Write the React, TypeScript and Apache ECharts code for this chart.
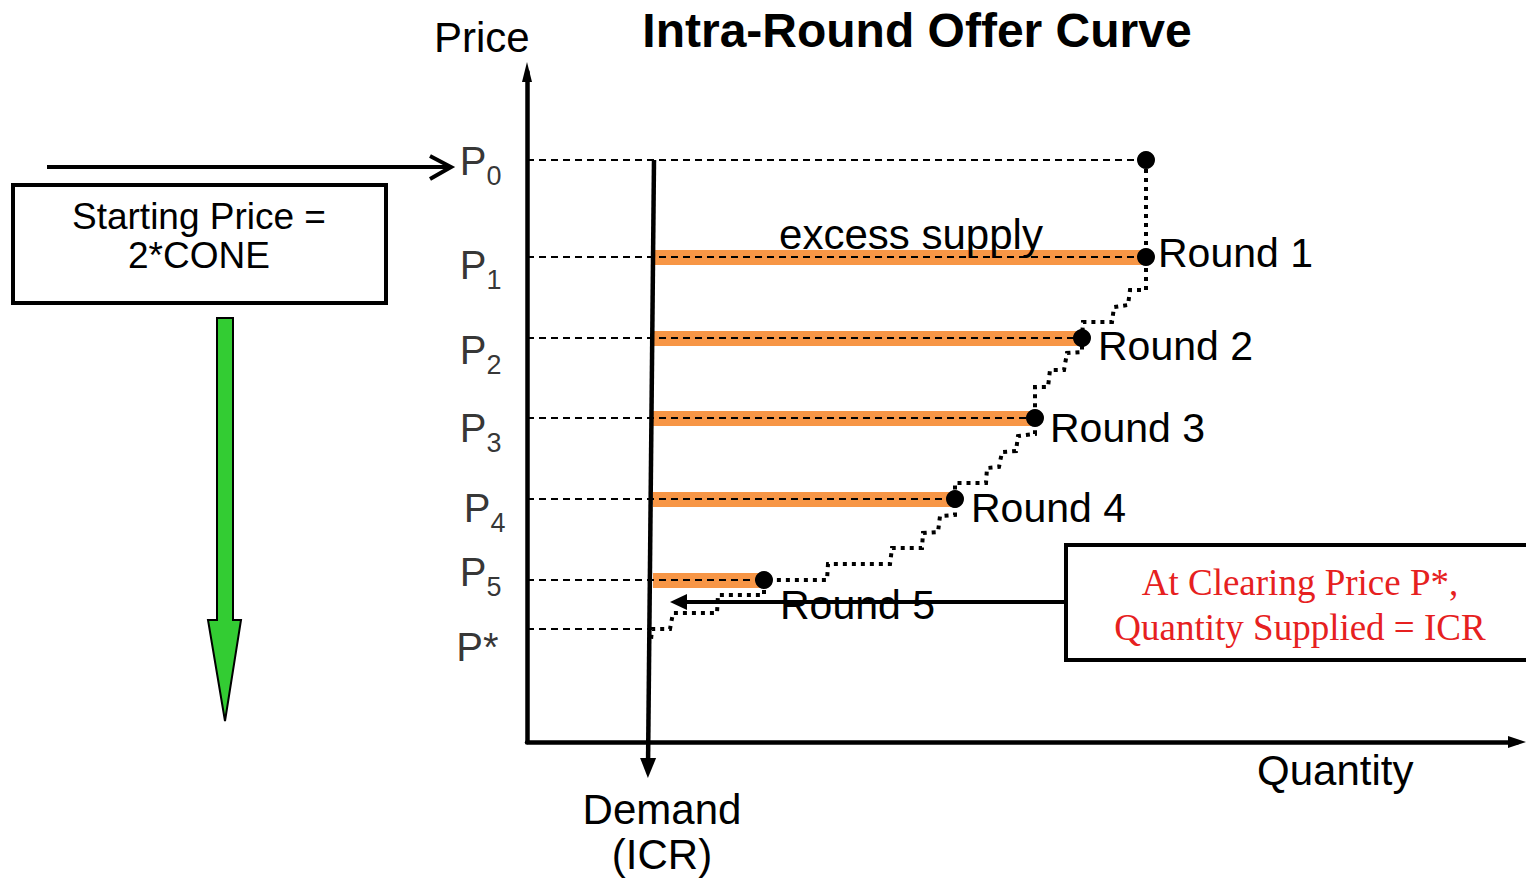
import React, { useEffect, useRef } from 'react';
import * as echarts from 'echarts';

// ---- data (quantity on x, price on y, in diagram units) ----
const priceNames = ['0', '1', '2', '3', '4', '5', '*'];
const priceLevels = [582, 485, 404, 324, 243, 162, 113]; // P0..P5, P*
const roundNames = ['Round 1', 'Round 2', 'Round 3', 'Round 4', 'Round 5'];
const roundQuantities = [619, 555, 508, 428, 237]; // offered quantity at P1..P5
const startQuantity = 619; // offered quantity at P0
const demandQuantity = 125; // ICR
const demandTop = [127, 582];
const demandBottom = [121, -26];
const supplyCurve = [
  [619, 582], [619, 485], [619, 452], [603, 452], [601, 437], [587, 435], [585, 420],
  [556, 420], [555, 404], [555, 390], [540, 389], [537, 372], [523, 372], [521, 355],
  [508, 355], [508, 324], [508, 308], [491, 306], [489, 291], [475, 290], [472, 275],
  [460, 274], [459, 259], [428, 259], [428, 243], [428, 227], [413, 226], [411, 210],
  [396, 209], [395, 194], [365, 194], [363, 178], [301, 178], [300, 162], [237, 162],
  [237, 147], [191, 147], [190, 129], [146, 129], [143, 113], [125, 113], [124, 102],
];

// ---- styling offsets ----
const priceLabelOffsets = [[0, 1], [0, 8], [0, 12], [0, 10], [4, 9], [0, -8], [-3, 18]];
const roundLabelOffsets = [[0, -4], [4, 8], [3, 10], [4, 9], [4, 25]];

const SANS = 'Liberation Sans, Arial, sans-serif';
const SERIF = 'Liberation Serif, Times New Roman, serif';
const ORANGE = '#F79646';

export default function App() {
  const ref = useRef<HTMLDivElement>(null);
  useEffect(() => {
    if (!ref.current) return;
    const chart = echarts.init(ref.current, undefined, { renderer: 'svg' });

    const orangeBars = roundQuantities.map((q, i) => ({
      coords: [[demandQuantity + 1, priceLevels[i + 1]], [q, priceLevels[i + 1]]],
    }));
    const guideEnds = [startQuantity, ...roundQuantities, demandQuantity];
    const guides = priceLevels.map((p, i) => ({ coords: [[0, p], [guideEnds[i], p]] }));

    const option: any = {
      animation: false,
      grid: { left: 527, top: 72, right: 9, bottom: 137 },
      xAxis: {
        type: 'value', min: 0, max: 990,
        axisLine: { show: true, lineStyle: { color: '#000', width: 4.5 }, symbol: ['none', 'triangle'], symbolSize: [12, 18] },
        axisTick: { show: false }, axisLabel: { show: false }, splitLine: { show: false },
      },
      yAxis: {
        type: 'value', min: 0, max: 670,
        axisLine: { show: true, lineStyle: { color: '#000', width: 4.5 }, symbol: ['none', 'triangle'], symbolSize: [10, 20] },
        axisTick: { show: false }, axisLabel: { show: false }, splitLine: { show: false },
      },
      series: [
        {
          type: 'lines', coordinateSystem: 'cartesian2d', clip: false, z: 2,
          data: orangeBars,
          lineStyle: { color: ORANGE, width: 15, opacity: 1, cap: 'butt' },
        },
        {
          type: 'lines', coordinateSystem: 'cartesian2d', clip: false, z: 3,
          data: guides,
          lineStyle: { color: '#000', width: 2, opacity: 1, type: [7, 5] },
        },
        {
          type: 'lines', coordinateSystem: 'cartesian2d', clip: false, z: 4, polyline: true,
          data: [{ coords: supplyCurve }],
          lineStyle: { color: '#000', width: 4, opacity: 1, type: [4, 5] },
        },
        {
          type: 'lines', coordinateSystem: 'cartesian2d', clip: false, z: 5,
          data: [{ coords: [demandTop, demandBottom] }],
          symbol: ['none', 'triangle'], symbolSize: [1, [16, 20]],
          lineStyle: { color: '#000', width: 4.5, opacity: 1 },
        },
        {
          type: 'scatter', z: 6, symbolSize: 18,
          itemStyle: { color: '#000', opacity: 1 },
          data: [
            { value: [startQuantity, priceLevels[0]], label: { show: false } },
            ...roundQuantities.map((q, i) => ({
              value: [q, priceLevels[i + 1]],
              name: roundNames[i],
              label: { offset: roundLabelOffsets[i] },
            })),
          ],
          label: {
            show: true, position: 'right', distance: 3,
            formatter: (p: any) => p.name,
            color: '#000', fontSize: 41, fontFamily: SANS,
          },
        },
        {
          type: 'scatter', z: 6, symbolSize: 1,
          itemStyle: { color: 'rgba(0,0,0,0)' },
          data: priceLevels.map((p, i) => ({
            value: [0, p],
            label: { offset: priceLabelOffsets[i] },
          })),
          label: {
            show: true, position: 'left', distance: 25,
            formatter: (p: any) => {
              const n = priceNames[p.dataIndex];
              return n === '*' ? '{m|P*}' : `{m|P}{s|${n}}`;
            },
            rich: {
              m: { fontSize: 40, lineHeight: 56, fontFamily: SANS, color: '#000' },
              s: { fontSize: 27, lineHeight: 27, verticalAlign: 'bottom', fontFamily: SANS, color: '#000' },
            },
          },
        },
      ],
      graphic: [
        { type: 'text', z: 100, style: { x: 917, y: 30, text: 'Intra-Round Offer Curve', fontSize: 48, fontWeight: 'bold', fontFamily: SANS, fill: '#000', align: 'center', verticalAlign: 'middle' } },
        { type: 'text', z: 100, style: { x: 434, y: 37, text: 'Price', fontSize: 42, fontFamily: SANS, fill: '#000', align: 'left', verticalAlign: 'middle' } },
        { type: 'text', z: 100, style: { x: 911, y: 234, text: 'excess supply', fontSize: 42, fontFamily: SANS, fill: '#000', align: 'center', verticalAlign: 'middle' } },
        { type: 'text', z: 100, style: { x: 1257, y: 770, text: 'Quantity', fontSize: 42, fontFamily: SANS, fill: '#000', align: 'left', verticalAlign: 'middle' } },
        { type: 'text', z: 100, style: { x: 662, y: 832, text: 'Demand\n(ICR)', fontSize: 42, lineHeight: 45, fontFamily: SANS, fill: '#000', align: 'center', verticalAlign: 'middle' } },
        // starting price arrow and box
        { type: 'line', z: 100, shape: { x1: 47, y1: 167, x2: 449, y2: 167 }, style: { stroke: '#000', lineWidth: 4 } },
        { type: 'polyline', z: 100, shape: { points: [[430, 156], [451, 167], [430, 179]] }, style: { stroke: '#000', lineWidth: 4, fill: 'none' } },
        { type: 'rect', z: 100, shape: { x: 13, y: 185, width: 373, height: 118 }, style: { fill: '#fff', stroke: '#000', lineWidth: 4 } },
        { type: 'text', z: 101, style: { x: 199, y: 236, text: 'Starting Price =\n2*CONE', fontSize: 37, lineHeight: 39, fontFamily: SANS, fill: '#000', align: 'center', verticalAlign: 'middle' } },
        { type: 'polygon', z: 100, shape: { points: [[217, 318], [233, 318], [233, 620], [241, 620], [225, 721], [208, 620], [217, 620]] }, style: { fill: '#33CC33', stroke: '#000', lineWidth: 2 } },
        // clearing price box and arrow
        { type: 'rect', z: 100, shape: { x: 1066, y: 545, width: 480, height: 115 }, style: { fill: '#fff', stroke: '#000', lineWidth: 4 } },
        { type: 'text', z: 101, style: { x: 1300, y: 605, text: 'At Clearing Price P*,\nQuantity Supplied = ICR', fontSize: 37, lineHeight: 45, fontFamily: SERIF, fill: '#E62020', align: 'center', verticalAlign: 'middle' } },
        { type: 'line', z: 100, shape: { x1: 1066, y1: 602, x2: 684, y2: 602 }, style: { stroke: '#000', lineWidth: 4 } },
        { type: 'polygon', z: 100, shape: { points: [[670, 602], [687, 594], [687, 610]] }, style: { fill: '#000' } },
      ],
    };
    chart.setOption(option);
    return () => chart.dispose();
  }, []);
  return <div ref={ref} style={{ position: 'fixed', left: 0, top: 0, width: 1526, height: 879, background: '#fff' }} />;
}
